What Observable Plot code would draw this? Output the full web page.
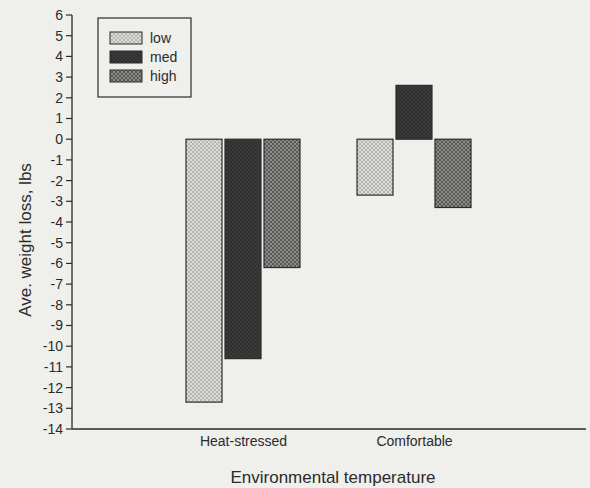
<!DOCTYPE html>
<html><head><meta charset="utf-8">
<script src="https://cdn.jsdelivr.net/npm/d3@7"></script>
<script src="https://cdn.jsdelivr.net/npm/@observablehq/plot@0.6"></script>
<style>
html,body{margin:0;padding:0;background:#efefec;}
</style></head><body><div id="chart"></div>
<script>
const categories = ["Heat-stressed", "Comfortable"];
const groups = ["low", "med", "high"];
const lowValues = [-12.7, -2.7];
const medValues = [-10.6, 2.6];
const highValues = [-6.2, -3.3];
const yTicks = d3.range(-14, 7);
const xTitle = "Environmental temperature";
const yTitle = "Ave. weight loss, lbs";

const series = {low: lowValues, med: medValues, high: highValues};
const rows = [];
categories.forEach((c, i) => groups.forEach(g => rows.push({category: c, group: g, value: series[g][i]})));

const W = 590, H = 488, mL = 72, mR = 4, mT = 15, mB = 59;
const ink = "#2b2b2b";
const font = "'Liberation Sans', Arial, sans-serif";

const plot = Plot.plot({
  width: W, height: H, marginLeft: mL, marginRight: mR, marginTop: mT, marginBottom: mB,
  style: {background: "transparent", fontFamily: font, fontSize: "14px", color: ink},
  y: {domain: [-14, 6], axis: null},
  fx: {domain: categories, paddingInner: 0.32, paddingOuter: 0.66, label: null, tickSize: 0, tickPadding: 7, axis: "bottom"},
  x: {domain: groups, paddingInner: 0.075, paddingOuter: 0, axis: null},
  color: {type: "identity"},
  marks: [
    Plot.barY(rows, {fx: "category", x: "group", y1: 0, y2: "value",
      fill: d => `url(#pat-${d.group})`, stroke: ink, strokeWidth: 1.2})
  ]
});

const svg = d3.select(plot);
const defs = svg.insert("defs", ":first-child");
const pats = {
  low: {bg: "#dcdcda", fg: "#a3a3a1", w: 0.7},
  med: {bg: "#3a3a3a", fg: "#2a2a2a", w: 0.6},
  high: {bg: "#8c8c8a", fg: "#4a4a4a", w: 0.8}
};
for (const g of groups) {
  const p = defs.append("pattern").attr("id", `pat-${g}`).attr("patternUnits", "userSpaceOnUse")
    .attr("width", 4).attr("height", 4);
  p.append("rect").attr("width", 4).attr("height", 4).attr("fill", pats[g].bg);
  p.append("path").attr("d", "M0,0L4,4M4,0L0,4").attr("stroke", pats[g].fg).attr("stroke-width", pats[g].w);
}

// y axis from Plot's y scale
const yS = plot.scale("y");
const yBottom = yS.apply(-14), yTop = yS.apply(6);
const ax = svg.append("g").attr("font-family", font).attr("font-size", 14).attr("fill", ink);
ax.append("line").attr("x1", mL).attr("x2", mL).attr("y1", yTop).attr("y2", yBottom)
  .attr("stroke", ink).attr("stroke-width", 1.3);
for (const t of yTicks) {
  const ty = yS.apply(t);
  ax.append("line").attr("x1", mL - 6).attr("x2", mL).attr("y1", ty).attr("y2", ty)
    .attr("stroke", ink).attr("stroke-width", 1.2);
  ax.append("text").attr("x", mL - 9).attr("y", ty).attr("dy", "0.35em").attr("text-anchor", "end").text(String(t));
}
svg.append("line").attr("x1", mL).attr("x2", W - mR).attr("y1", yBottom).attr("y2", yBottom)
  .attr("stroke", ink).attr("stroke-width", 1.3);

// legend
const lg = svg.append("g").attr("font-family", font).attr("font-size", 14).attr("fill", ink);
lg.append("rect").attr("x", 98).attr("y", 18).attr("width", 93).attr("height", 79)
  .attr("fill", "none").attr("stroke", ink).attr("stroke-width", 1.2);
groups.forEach((g, i) => {
  const cy = 38 + i * 19;
  lg.append("rect").attr("x", 110).attr("y", cy - 6).attr("width", 32).attr("height", 12)
    .attr("fill", `url(#pat-${g})`).attr("stroke", ink).attr("stroke-width", 1);
  lg.append("text").attr("x", 150).attr("y", cy).attr("dy", "0.35em").attr("text-anchor", "start").text(g);
});

// axis titles
svg.append("text").attr("x", 333).attr("y", 477).attr("dy", "0.35em").attr("text-anchor", "middle")
  .attr("font-family", font).attr("font-size", 17).attr("fill", ink).text(xTitle);
svg.append("text").attr("transform", "translate(25,240) rotate(-90)").attr("dy", "0.35em")
  .attr("text-anchor", "middle").attr("font-family", font).attr("font-size", 17).attr("fill", ink).text(yTitle);

document.getElementById("chart").appendChild(plot);
</script>
</body></html>
